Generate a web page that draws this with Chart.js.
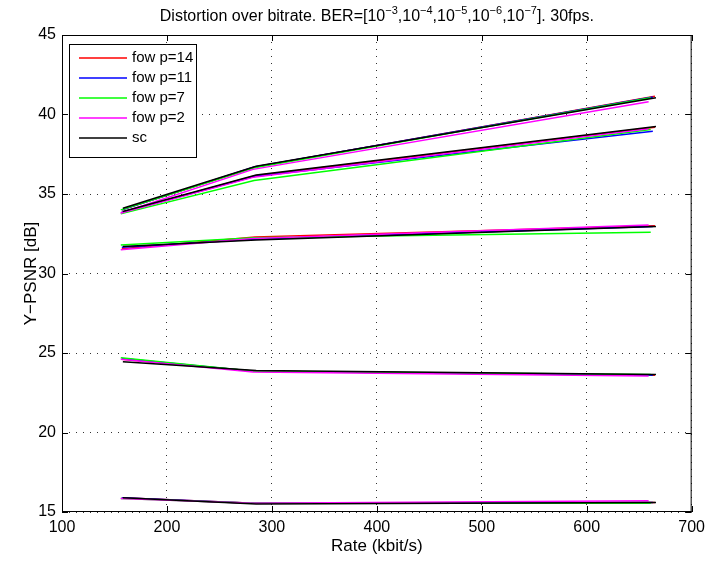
<!DOCTYPE html>
<html>
<head>
<meta charset="utf-8">
<script src="https://cdn.jsdelivr.net/npm/chart.js@4.4.0/dist/chart.umd.min.js"></script>
<style>
  body { margin: 0; background: #fff; }
</style>
</head>
<body>
<canvas id="chart" width="711" height="561"></canvas>
<script>
// series shown in the legend
const seriesNames = ["fow p=14", "fow p=11", "fow p=7", "fow p=2", "sc"];
// BER exponents, one line per level and series
const berLevels = ["-3", "-4", "-5", "-6", "-7"];

// rates (kbit/s) for each series
const rateP14 = [157, 284, 665];
const rateP11 = [157, 283, 663];
const rateP7 = [156, 283, 661];
const rateP2 = [156, 282, 659];
const rateSc = [158, 285, 666];

// Y-PSNR [dB], rows = BER 1e-3 .. 1e-7
const psnrP14 = [
    [15.9, 15.55, 15.6],
    [24.6, 23.85, 23.6],
    [31.55, 32.3, 33.0],
    [33.85, 36.15, 39.2],
    [34.0, 36.7, 41.15],
];
const psnrP11 = [
    [15.9, 15.55, 15.6],
    [24.65, 23.85, 23.6],
    [31.65, 32.15, 32.95],
    [33.85, 36.1, 38.95],
    [34.0, 36.7, 41.1],
];
const psnrP7 = [
    [15.85, 15.55, 15.55],
    [24.7, 23.85, 23.65],
    [31.8, 32.25, 32.6],
    [33.75, 35.85, 39.05],
    [34.0, 36.65, 41.05],
];
const psnrP2 = [
    [15.85, 15.55, 15.7],
    [24.6, 23.8, 23.55],
    [31.5, 32.2, 33.05],
    [33.8, 36.05, 39.1],
    [33.8, 36.55, 40.8],
];
const psnrSc = [
    [15.9, 15.5, 15.6],
    [24.45, 23.9, 23.65],
    [31.7, 32.1, 32.95],
    [33.9, 36.2, 39.25],
    [34.1, 36.75, 41.05],
];

const seriesColors = ["#ff0000", "#0000ff", "#00ff00", "#ff00ff", "#000000"];
const allRates = [rateP14, rateP11, rateP7, rateP2, rateSc];
const allPsnr = [psnrP14, psnrP11, psnrP7, psnrP2, psnrSc];

const FONT = "'Liberation Sans', Arial, Helvetica, sans-serif";

const datasets = [];
seriesNames.forEach((name, s) => {
    allPsnr[s].forEach((row, b) => {
        datasets.push({
            label: name,
            data: allRates[s].map((x, i) => ({ x: x, y: row[i] })),
            borderColor: seriesColors[s],
            backgroundColor: seriesColors[s],
            borderWidth: 1.5,
            pointRadius: 0,
            showLine: true,
            fill: false,
            tension: 0,
            order: seriesNames.length - s, // sc drawn on top
        });
    });
});

// box, inward ticks, title with superscripts, legend
const matlabPlugin = {
    id: "matlab",
    afterDraw(chart) {
        const ctx = chart.ctx;
        const a = chart.chartArea;
        const xs = chart.scales.x;
        const ys = chart.scales.y;
        ctx.save();
        ctx.strokeStyle = "#000";
        ctx.lineWidth = 1;
        ctx.setLineDash([]);
        ctx.strokeRect(a.left + 0.5, a.top + 0.5, a.right - a.left - 1, a.bottom - a.top - 1);

        ctx.beginPath();
        xs.ticks.forEach(t => {
            const px = Math.round(xs.getPixelForValue(t.value)) + 0.5;
            ctx.moveTo(px, a.bottom); ctx.lineTo(px, a.bottom - 6);
            ctx.moveTo(px, a.top); ctx.lineTo(px, a.top + 6);
        });
        ys.ticks.forEach(t => {
            const py = Math.round(ys.getPixelForValue(t.value)) + 0.5;
            ctx.moveTo(a.left, py); ctx.lineTo(a.left + 6, py);
            ctx.moveTo(a.right, py); ctx.lineTo(a.right - 6, py);
        });
        ctx.stroke();

        // title
        const parts = [["Distortion over bitrate. BER=[10", false]];
        berLevels.forEach((e, i) => {
            parts.push(["\u2212" + e.slice(1), true]);
            parts.push([i < berLevels.length - 1 ? ",10" : "]. 30fps.", false]);
        });
        const mainFont = "16px " + FONT;
        const supFont = "11px " + FONT;
        let w = 0;
        parts.forEach(p => { ctx.font = p[1] ? supFont : mainFont; w += ctx.measureText(p[0]).width; });
        let x = (a.left + a.right) / 2 - w / 2;
        const base = 21;
        ctx.fillStyle = "#000";
        ctx.textBaseline = "alphabetic";
        ctx.textAlign = "left";
        parts.forEach(p => {
            ctx.font = p[1] ? supFont : mainFont;
            ctx.fillText(p[0], x, p[1] ? base - 7 : base);
            x += ctx.measureText(p[0]).width;
        });

        // legend
        const lx = 69, ly = 44, lw = 127, lh = 113;
        ctx.fillStyle = "#fff";
        ctx.fillRect(lx, ly, lw, lh);
        ctx.strokeStyle = "#000";
        ctx.lineWidth = 1;
        ctx.strokeRect(lx + 0.5, ly + 0.5, lw, lh);
        ctx.font = "15px " + FONT;
        ctx.textBaseline = "middle";
        seriesNames.forEach((name, i) => {
            const yy = 58 + i * 20;
            ctx.strokeStyle = seriesColors[i];
            ctx.lineWidth = 1.5;
            ctx.beginPath();
            ctx.moveTo(79, yy); ctx.lineTo(127, yy);
            ctx.stroke();
            ctx.fillStyle = "#000";
            ctx.fillText(name, 132, yy);
        });
        ctx.restore();
    }
};

new Chart(document.getElementById("chart"), {
    type: "scatter",
    data: { datasets: datasets },
    options: {
        responsive: false,
        animation: false,
        layout: { padding: { top: 35, right: 18, left: 0, bottom: 0 } },
        plugins: {
            legend: { display: false },
            tooltip: { enabled: false },
        },
        scales: {
            x: {
                type: "linear",
                min: 100,
                max: 700,
                afterFit: s => { s.height = 49; },
                ticks: { stepSize: 100, color: "#000", padding: 6, font: { size: 16, family: FONT } },
                grid: { color: "#333", lineWidth: 1, drawTicks: false },
                border: { display: false, dash: [1, 6] },
                title: { display: true, text: "Rate (kbit/s)", color: "#000", padding: { top: 0, bottom: 4 }, font: { size: 17, family: FONT } },
            },
            y: {
                type: "linear",
                min: 15,
                max: 45,
                afterFit: s => { s.width = 62; },
                ticks: { stepSize: 5, color: "#000", padding: 6, font: { size: 16, family: FONT } },
                grid: { color: "#333", lineWidth: 1, drawTicks: false },
                border: { display: false, dash: [1, 6] },
                title: { display: true, text: "Y\u2212PSNR [dB]", color: "#000", padding: { top: 21, bottom: 0 }, font: { size: 17, family: FONT } },
            },
        },
    },
    plugins: [matlabPlugin],
});
</script>
</body>
</html>
